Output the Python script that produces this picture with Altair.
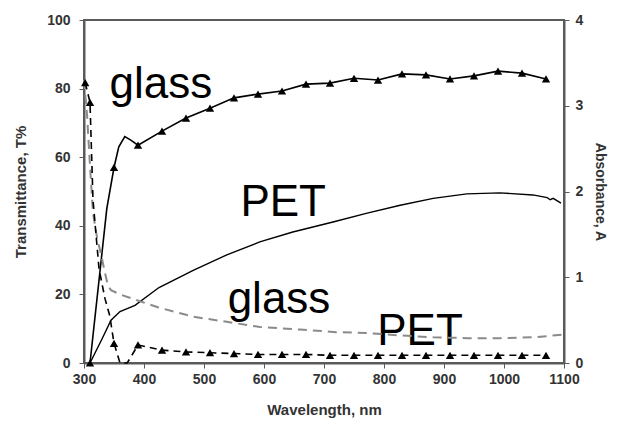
import altair as alt
import pandas as pd

# ---------------- data ----------------
# Transmittance of glass (solid line with triangles), T%
glass_T_nm = [310, 338, 350, 358, 368, 378, 390, 430, 470, 510, 550, 590, 630, 670,
              710, 750, 790, 830, 870, 910, 950, 990, 1030, 1070]
glass_T_val = [0, 45, 57, 63, 66, 65, 63.5, 67.6, 71.4, 74.3, 77.3, 78.4, 79.3, 81.3,
               81.6, 83, 82.5, 84.3, 84, 82.8, 83.7, 85.1, 84.5, 82.8]
glass_T_marker_nm = [310, 350, 390, 430, 470, 510, 550, 590, 630, 670, 710, 750, 790,
                     830, 870, 910, 950, 990, 1030, 1070]

# Transmittance of PET (solid line), T%
pet_T_nm = [310, 320, 330, 345, 360, 385, 425, 482, 538, 593, 648, 715, 772, 827,
            882, 938, 993, 1048, 1072, 1077, 1082, 1095]
pet_T_val = [0, 3.5, 7, 12.5, 15, 16.8, 22, 27, 31.5, 35.3, 38.2, 41.1, 43.7, 46,
             48, 49.3, 49.6, 49, 48.2, 47.6, 48, 46.6]

# Absorbance of glass (grey dashed line), A
glass_A_nm = [300, 305, 310, 315, 322, 328, 335, 340, 345, 360, 385, 423, 482, 538,
              593, 660, 720, 772, 830, 882, 940, 993, 1050, 1098]
glass_A_val = [3.3, 2.9, 2.3, 1.75, 1.45, 1.28, 1.05, 0.9, 0.85, 0.8, 0.74, 0.65, 0.54,
               0.48, 0.42, 0.39, 0.36, 0.35, 0.32, 0.30, 0.29, 0.29, 0.30, 0.33]

# Absorbance of PET (black dashed line with triangles), A
pet_A_nm = [302, 310, 315, 325, 335, 343, 350, 360, 372, 390, 430, 470, 510, 550, 590,
            630, 670, 710, 750, 790, 830, 870, 910, 950, 990, 1030, 1070]
pet_A_val = [3.27, 3.04, 1.9, 1.1, 0.75, 0.55, 0.23, 0.0, 0.0, 0.21, 0.15, 0.13, 0.12,
             0.11, 0.10, 0.10, 0.10, 0.09, 0.09, 0.09, 0.09, 0.09, 0.09, 0.09, 0.09,
             0.09, 0.09]
pet_A_marker_nm = [302, 310, 350, 390, 430, 470, 510, 550, 590, 630, 670, 710, 750, 790,
                   830, 870, 910, 950, 990, 1030, 1070]

# Annotations (in wavelength / T% coordinates)
label_text = ["glass", "PET", "glass", "PET"]
label_nm = [428, 632, 625, 860]
label_T = [81, 46.6, 18.4, 9.0]

x_ticks = [300, 400, 500, 600, 700, 800, 900, 1000, 1100]
T_ticks = [0, 20, 40, 60, 80, 100]
A_ticks = [0, 1, 2, 3, 4]

# ---------------- tables ----------------
glassT = pd.DataFrame({"nm": glass_T_nm, "v": glass_T_val})
glassT_m = glassT[glassT["nm"].isin(glass_T_marker_nm)]
petT = pd.DataFrame({"nm": pet_T_nm, "v": pet_T_val})
glassA = pd.DataFrame({"nm": glass_A_nm, "v": glass_A_val})
petA = pd.DataFrame({"nm": pet_A_nm, "v": pet_A_val})
petA_m = petA[petA["nm"].isin(pet_A_marker_nm)]
labels = pd.DataFrame({"t": label_text, "nm": label_nm, "v": label_T})

FONT = "Liberation Sans"
AX_COLOR = "#5a5a5a"
TXT = "#333333"

x_enc = alt.X("nm:Q",
              scale=alt.Scale(domain=[300, 1100], nice=False, zero=False),
              axis=alt.Axis(values=x_ticks, title="Wavelength, nm", grid=False, format="d",
                            labelFlush=False,
                            labelFont=FONT, labelFontSize=14, labelFontWeight="bold",
                            labelColor=TXT, titleFont=FONT, titleFontSize=15,
                            titleFontWeight="bold", titleColor=TXT, titlePadding=16,
                            domainColor=AX_COLOR, domainWidth=2, tickColor=AX_COLOR,
                            tickSize=5, labelPadding=4))

T_axis = alt.Axis(values=T_ticks, title="Transmittance, T%", grid=False, orient="left",
                  labelFlush=False,
                  labelFont=FONT, labelFontSize=14, labelFontWeight="bold",
                  labelColor=TXT, titleFont=FONT, titleFontSize=15,
                  titleFontWeight="bold", titleColor=TXT, titlePadding=18,
                  domainColor=AX_COLOR, domainWidth=2, tickColor=AX_COLOR,
                  tickSize=5, labelPadding=9)
A_axis = alt.Axis(values=A_ticks, title="Absorbance, A", grid=False, orient="right",
                  labelFlush=False,
                  labelFont=FONT, labelFontSize=14, labelFontWeight="bold",
                  labelColor=TXT, titleFont=FONT, titleFontSize=14,
                  titleFontWeight="bold", titleColor=TXT, titlePadding=10,
                  domainColor=AX_COLOR, domainWidth=2, tickColor=AX_COLOR,
                  tickSize=5, labelPadding=6)

yT = alt.Y("v:Q", scale=alt.Scale(domain=[0, 100], nice=False), axis=T_axis)
yA = alt.Y("v:Q", scale=alt.Scale(domain=[0, 4], nice=False), axis=A_axis)

glassT_line = alt.Chart(glassT).mark_line(color="black", strokeWidth=1.6).encode(x=x_enc, y=yT)
glassT_pts = alt.Chart(glassT_m).mark_point(shape="triangle-up", filled=True, color="black",
                                             size=70, opacity=1).encode(x=x_enc, y=yT)
petT_line = alt.Chart(petT).mark_line(color="black", strokeWidth=1.4).encode(x=x_enc, y=yT)
texts = alt.Chart(labels).mark_text(font=FONT, fontSize=44, color="black").encode(
    x=x_enc, y=yT, text="t:N")

T_layer = alt.layer(glassT_line, glassT_pts, petT_line, texts)

glassA_line = alt.Chart(glassA).mark_line(color="#8a8a8a", strokeWidth=2,
                                          strokeDash=[9, 6]).encode(x=x_enc, y=yA)
petA_line = alt.Chart(petA).mark_line(color="black", strokeWidth=1.6,
                                      strokeDash=[7, 5]).encode(x=x_enc, y=yA)
petA_pts = alt.Chart(petA_m).mark_point(shape="triangle-up", filled=True, color="black",
                                         size=70, opacity=1).encode(x=x_enc, y=yA)
A_layer = alt.layer(glassA_line, petA_line, petA_pts)

chart = alt.layer(T_layer, A_layer).resolve_scale(y="independent").properties(
    width=480, height=343,
    autosize=alt.AutoSizeParams(type="none"),
    padding={"left": 76, "top": 12, "right": 48, "bottom": 59},
    background="white",
).configure_view(stroke=AX_COLOR, strokeWidth=2)

chart.save("out.html", embed_options={"renderer": "svg", "actions": False})
